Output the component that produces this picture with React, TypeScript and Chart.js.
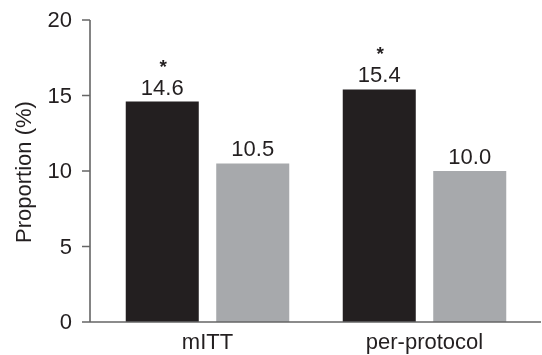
import React, { useEffect, useRef } from "react";
import { Chart, registerables } from "chart.js";

Chart.register(...registerables);

const categories = ["mITT", "per-protocol"];
const seriesA = [14.6, 15.4];
const seriesB = [10.5, 10.0];
const seriesAMarks = ["*", "*"];
const yTicks = [0, 5, 10, 15, 20];
const yTitle = "Proportion (%)";

const FONT_FAMILY = "'Liberation Sans', Arial, Helvetica, sans-serif";
const TEXT = "#231f20";
const AXIS = "#666666";
const BLACK = "#231f20";
const GRAY = "#a7a9ac";

const axesPlugin = {
  id: "customAxes",
  afterDraw(chart: any) {
    const { ctx, chartArea, scales } = chart;
    const y = scales.y;
    const x = scales.x;
    const axisX = chartArea.left - 9;
    const top = y.getPixelForValue(yTicks[yTicks.length - 1]);
    const bottom = y.getPixelForValue(0);
    ctx.save();
    ctx.strokeStyle = AXIS;
    ctx.lineWidth = 1.6;
    ctx.beginPath();
    ctx.moveTo(axisX, top);
    ctx.lineTo(axisX, bottom);
    ctx.lineTo(chart.width - 1, bottom);
    yTicks.forEach((v) => {
      const py = y.getPixelForValue(v);
      ctx.moveTo(axisX - 8, py);
      ctx.lineTo(axisX, py);
    });
    ctx.stroke();

    ctx.fillStyle = TEXT;
    ctx.font = `22px ${FONT_FAMILY}`;
    // y tick labels
    ctx.textAlign = "right";
    ctx.textBaseline = "middle";
    yTicks.forEach((v) => {
      ctx.fillText(String(v), axisX - 18, y.getPixelForValue(v) + 1);
    });
    // x labels
    ctx.textAlign = "center";
    ctx.textBaseline = "alphabetic";
    categories.forEach((c, i) => {
      ctx.fillText(c, x.getPixelForValue(i), bottom + 27);
    });
    // y title
    ctx.save();
    ctx.translate(31, (top + bottom) / 2 + 1);
    ctx.rotate(-Math.PI / 2);
    ctx.textAlign = "center";
    ctx.textBaseline = "alphabetic";
    ctx.fillText(yTitle, 0, 0);
    ctx.restore();
    ctx.restore();
  },
  afterDatasetsDraw(chart: any) {
    const { ctx } = chart;
    ctx.save();
    ctx.fillStyle = TEXT;
    ctx.textAlign = "center";
    ctx.textBaseline = "alphabetic";
    chart.data.datasets.forEach((ds: any, di: number) => {
      const meta = chart.getDatasetMeta(di);
      meta.data.forEach((bar: any, i: number) => {
        const v = ds.data[i] as number;
        ctx.font = `22px ${FONT_FAMILY}`;
        ctx.fillText(v.toFixed(1), bar.x, bar.y - 7);
        if (di === 0 && seriesAMarks[i]) {
          ctx.font = `bold 19px ${FONT_FAMILY}`;
          ctx.fillText(seriesAMarks[i], bar.x + 1, bar.y - 29);
        }
      });
    });
    ctx.restore();
  },
};

export default function App() {
  const ref = useRef<HTMLCanvasElement | null>(null);
  useEffect(() => {
    document.body.style.margin = "0";
    if (!ref.current) return;
    const chart = new Chart(ref.current, {
      type: "bar",
      data: {
        labels: categories,
        datasets: [
          {
            data: seriesA,
            backgroundColor: BLACK,
            borderWidth: 0,
            barPercentage: 0.807,
            categoryPercentage: 0.834,
          },
          {
            data: seriesB,
            backgroundColor: GRAY,
            borderWidth: 0,
            barPercentage: 0.807,
            categoryPercentage: 0.834,
          },
        ],
      },
      options: {
        animation: false,
        responsive: true,
        maintainAspectRatio: false,
        layout: { padding: { top: 20, right: 9, left: 99, bottom: 33 } },
        plugins: {
          legend: { display: false },
          tooltip: { enabled: false },
        },
        scales: {
          x: {
            display: false,
            offset: true,
            grid: { display: false },
          },
          y: {
            display: false,
            min: 0,
            max: 20,
            grid: { display: false },
          },
        },
      },
      plugins: [axesPlugin],
    });
    return () => chart.destroy();
  }, []);
  return (
    <div style={{ position: "relative", width: 542, height: 355 }}>
      <canvas ref={ref} />
    </div>
  );
}
